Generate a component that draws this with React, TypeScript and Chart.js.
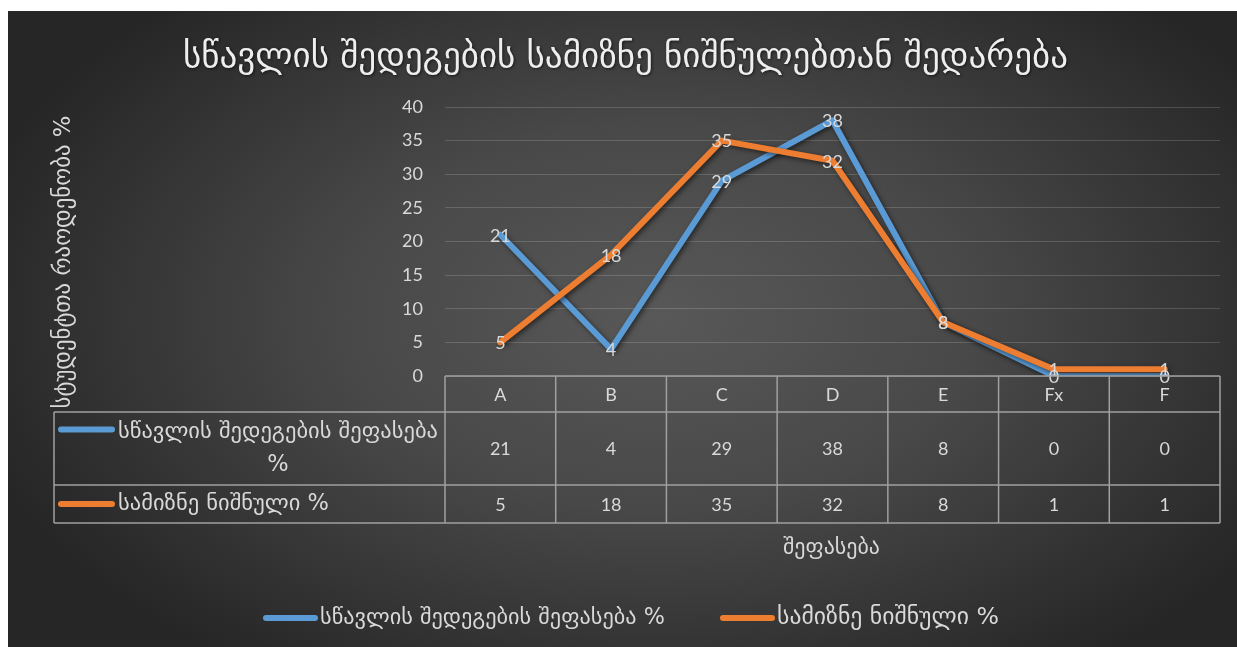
import React, { useEffect, useRef } from "react";
import { Chart, registerables } from "chart.js";

Chart.register(...registerables);

const TITLE = "სწავლის შედეგების სამიზნე ნიშნულებთან შედარება";
const Y_TITLE = "სტუდენტთა რაოდენობა %";
const X_TITLE = "შეფასება";
const categories = ["A", "B", "C", "D", "E", "Fx", "F"];
const seriesNames = ["სწავლის შედეგების შეფასება %", "სამიზნე ნიშნული %"];
const row1LabelLines = ["სწავლის შედეგების შეფასება", "%"];
const resultsValues = [21, 4, 29, 38, 8, 0, 0];
const targetValues = [5, 18, 35, 32, 8, 1, 1];
const Y_MIN = 0;
const Y_MAX = 40;
const Y_STEP = 5;

const BLUE = "#5B9BD5";
const ORANGE = "#ED7D31";
const TEXT = "#d9d9d9";
const NUM_FONT = 'Lato, "DejaVu Sans", sans-serif';
const GEO_FONT = '"DejaVu Sans", sans-serif';

function fitFont(ctx: CanvasRenderingContext2D, text: string, target: number, family: string) {
  ctx.font = `100px ${family}`;
  const w = ctx.measureText(text).width;
  const size = (100 * target) / w;
  ctx.font = `${size.toFixed(2)}px ${family}`;
}

export default function App() {
  const ref = useRef<HTMLCanvasElement>(null);

  useEffect(() => {
    const canvas = ref.current!;
    const colors = [BLUE, ORANGE];

    const bgPlugin = {
      id: "bg",
      beforeDraw(chart: any) {
        const { ctx, width, height } = chart;
        ctx.save();
        ctx.fillStyle = "#262626";
        ctx.fillRect(0, 0, width, height);
        ctx.translate(width * 0.53, height * 0.48);
        ctx.scale(1, 0.6);
        const g = ctx.createRadialGradient(0, 0, 0, 0, 0, width * 0.58);
        g.addColorStop(0, "#585858");
        g.addColorStop(0.45, "#484848");
        g.addColorStop(1, "#262626");
        ctx.fillStyle = g;
        ctx.fillRect(-width, -height * 2, width * 2, height * 4);
        ctx.restore();
      },
    };

    const shadowPlugin = {
      id: "shadow",
      beforeDatasetDraw(chart: any) {
        const ctx = chart.ctx;
        ctx.save();
        ctx.shadowColor = "rgba(0,0,0,0.55)";
        ctx.shadowBlur = 5;
        ctx.shadowOffsetX = 2;
        ctx.shadowOffsetY = 2;
      },
      afterDatasetDraw(chart: any) {
        chart.ctx.restore();
      },
    };

    const labelsPlugin = {
      id: "labels",
      afterDatasetsDraw(chart: any) {
        const ctx = chart.ctx;
        ctx.save();
        ctx.font = `18px ${NUM_FONT}`;
        ctx.fillStyle = TEXT;
        ctx.textAlign = "center";
        ctx.textBaseline = "middle";
        chart.data.datasets.forEach((ds: any, di: number) => {
          const meta = chart.getDatasetMeta(di);
          meta.data.forEach((pt: any, i: number) => {
            ctx.fillText(String(ds.data[i]), pt.x, pt.y + 1);
          });
        });
        ctx.restore();
      },
    };

    const tablePlugin = {
      id: "table",
      afterDraw(chart: any) {
        const { ctx, chartArea: ca } = chart;
        const xs = chart.scales.x;
        const tableLeft = 46;
        const rows = [ca.bottom, ca.bottom + 36, ca.bottom + 109, ca.bottom + 147];
        ctx.save();
        // Titles
        ctx.fillStyle = "#eeeeee";
        ctx.textAlign = "left";
        ctx.textBaseline = "middle";
        ctx.shadowColor = "rgba(0,0,0,0.6)";
        ctx.shadowBlur = 3;
        ctx.shadowOffsetX = 1;
        ctx.shadowOffsetY = 1;
        fitFont(ctx, TITLE, 885, GEO_FONT);
        ctx.fillText(TITLE, 175, 47);
        ctx.shadowColor = "transparent";
        ctx.fillStyle = TEXT;
        fitFont(ctx, X_TITLE, 97, GEO_FONT);
        ctx.fillText(X_TITLE, 775, 537);
        ctx.save();
        ctx.translate(56, 251);
        ctx.rotate(-Math.PI / 2);
        ctx.textAlign = "center";
        fitFont(ctx, Y_TITLE, 293, GEO_FONT);
        ctx.fillText(Y_TITLE, 0, 0);
        ctx.restore();

        // Table grid
        ctx.strokeStyle = "#a0a0a0";
        ctx.lineWidth = 1.5;
        const hline = (x1: number, x2: number, y: number) => {
          ctx.beginPath();
          ctx.moveTo(x1, y);
          ctx.lineTo(x2, y);
          ctx.stroke();
        };
        const vline = (x: number, y1: number, y2: number) => {
          ctx.beginPath();
          ctx.moveTo(x, y1);
          ctx.lineTo(x, y2);
          ctx.stroke();
        };
        hline(ca.left, ca.right, rows[0]);
        for (let r = 1; r < rows.length; r++) hline(tableLeft, ca.right, rows[r]);
        vline(tableLeft, rows[1], rows[3]);
        const centers = categories.map((_, i) => xs.getPixelForValue(i));
        const bounds = [ca.left];
        for (let i = 1; i < centers.length; i++) bounds.push((centers[i] + centers[i - 1]) / 2);
        bounds.push(ca.right);
        bounds.forEach((b) => vline(b, rows[0], rows[3]));

        // Cells
        ctx.textAlign = "center";
        ctx.font = `18px ${NUM_FONT}`;
        ctx.fillStyle = TEXT;
        const mid = (a: number, b: number) => (a + b) / 2;
        categories.forEach((c, i) => {
          ctx.fillText(c, centers[i], mid(rows[0], rows[1]) + 1);
          ctx.fillText(String(resultsValues[i]), centers[i], mid(rows[1], rows[2]) + 1);
          ctx.fillText(String(targetValues[i]), centers[i], mid(rows[2], rows[3]) + 1);
        });

        // Row headers with legend keys
        const keyLine = (x1: number, x2: number, y: number, color: string) => {
          ctx.save();
          ctx.strokeStyle = color;
          ctx.lineWidth = 6;
          ctx.lineCap = "round";
          ctx.beginPath();
          ctx.moveTo(x1, y);
          ctx.lineTo(x2, y);
          ctx.stroke();
          ctx.restore();
        };
        const r1 = mid(rows[1], rows[2]);
        const r2 = mid(rows[2], rows[3]);
        keyLine(tableLeft + 7, tableLeft + 58, r1 - 19, BLUE);
        keyLine(tableLeft + 7, tableLeft + 58, r2, ORANGE);
        ctx.textAlign = "left";
        fitFont(ctx, row1LabelLines[0], 320, GEO_FONT);
        const rowFont = ctx.font;
        ctx.fillText(row1LabelLines[0], tableLeft + 64, r1 - 16);
        ctx.textAlign = "center";
        ctx.fillText(row1LabelLines[1], 270, r1 + 17);
        ctx.textAlign = "left";
        ctx.font = rowFont;
        ctx.fillText(seriesNames[1], tableLeft + 64, r2);

        // Bottom legend
        const ly = 607;
        const legendX = [255, 712];
        const legendW = [345, 222];
        [0, 1].forEach((k) => {
          const lx = legendX[k];
          keyLine(lx + 3, lx + 52, ly, colors[k]);
          ctx.fillStyle = TEXT;
          ctx.textAlign = "left";
          fitFont(ctx, seriesNames[k], legendW[k], GEO_FONT);
          ctx.fillText(seriesNames[k], lx + 57, ly);
        });
        ctx.restore();
      },
    };

    const chart = new Chart(canvas, {
      type: "line",
      data: {
        labels: categories,
        datasets: [
          {
            label: seriesNames[0],
            data: resultsValues,
            borderColor: BLUE,
            backgroundColor: BLUE,
            borderWidth: 6,
            pointRadius: 0,
            borderJoinStyle: "round",
            borderCapStyle: "round",
            order: 1,
          },
          {
            label: seriesNames[1],
            data: targetValues,
            borderColor: ORANGE,
            backgroundColor: ORANGE,
            borderWidth: 6,
            pointRadius: 0,
            borderJoinStyle: "round",
            borderCapStyle: "round",
            order: 0,
          },
        ],
      },
      options: {
        responsive: false,
        devicePixelRatio: 1,
        animation: false,
        layout: { padding: { left: 0, top: 96, right: 17, bottom: 271 } },
        plugins: {
          legend: { display: false },
          title: { display: false },
          tooltip: { enabled: false },
        },
        scales: {
          x: {
            type: "category",
            display: false,
            offset: true,
          },
          y: {
            min: Y_MIN,
            max: Y_MAX,
            afterFit: (s: any) => {
              s.width = 437;
            },
            ticks: {
              stepSize: Y_STEP,
              color: TEXT,
              padding: 22,
              font: { size: 18, family: NUM_FONT },
            },
            grid: { color: "rgba(255,255,255,0.16)", lineWidth: 1, drawTicks: false },
            border: { display: false },
          },
        },
      },
      plugins: [bgPlugin, shadowPlugin, labelsPlugin, tablePlugin],
    } as any);

    return () => chart.destroy();
  }, []);

  return (
    <div style={{ position: "fixed", left: 8, top: 11, width: 1229, height: 636 }}>
      <canvas ref={ref} width={1229} height={636} style={{ display: "block", width: 1229, height: 636 }} />
    </div>
  );
}
